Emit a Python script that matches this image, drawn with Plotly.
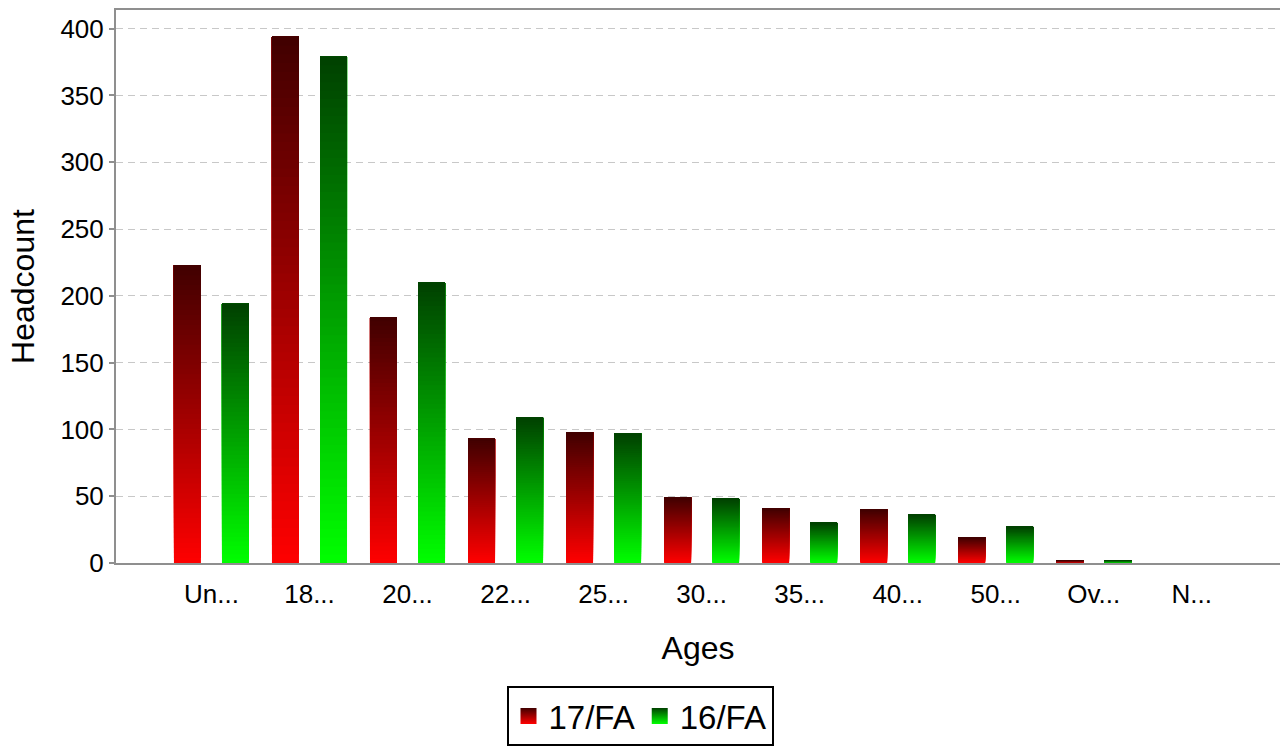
import plotly.graph_objects as go

categories = ["Un...", "18...", "20...", "22...", "25...", "30...", "35...", "40...", "50...", "Ov...", "N..."]
fa17 = [223, 394, 184, 93, 98, 49, 41, 40, 19, 2, 0]
fa16 = [194, 379, 210, 109, 97, 48, 30, 36, 27, 2, 0]
series_names = ["17/FA", "16/FA"]
y_ticks = [0, 50, 100, 150, 200, 250, 300, 350, 400]

FONT = "Liberation Sans, Arial, sans-serif"
N_SEG = 60

def lerp(c1, c2, t):
    return "rgb(%d,%d,%d)" % tuple(round(a + (b - a) * t) for a, b in zip(c1, c2))

styles = [
    dict(vals=fa17, dark=(64, 0, 0), bright=(255, 0, 0), offset=-0.383),
    dict(vals=fa16, dark=(0, 64, 0), bright=(0, 255, 0), offset=0.107),
]
BAR_W = 0.2755

fig = go.Figure()
for name, st in zip(series_names, styles):
    vals = st["vals"]
    for k in range(N_SEG):
        # overlapping layers: layer k spans from k/N of the value up to the full value
        t = 1 - (k + 0.5) / N_SEG  # 1 = bottom bright, 0 = top dark
        col = lerp(st["dark"], st["bright"], t)
        fig.add_trace(go.Bar(
            x=categories,
            y=[v * (N_SEG - k) / N_SEG for v in vals],
            base=[v * k / N_SEG for v in vals],
            offset=st["offset"], width=BAR_W,
            marker=dict(color=col, line=dict(width=0)),
            showlegend=False, hoverinfo="skip",
        ))
    # legend entry
    fig.add_trace(go.Scatter(
        x=[None], y=[None], mode="markers", name=name,
        marker=dict(symbol="square", size=22,
                    color="rgb(%d,%d,%d)" % st["dark"],
                    gradient=dict(type="vertical", color="rgb(%d,%d,%d)" % st["bright"])),
    ))

fig.update_layout(
    width=1280, height=746,
    barmode="overlay",
    paper_bgcolor="white", plot_bgcolor="white",
    margin=dict(l=116, r=0, t=10, b=183),
    font=dict(family=FONT, size=26, color="black"),
    showlegend=True,
    legend=dict(
        orientation="h", xref="container", yref="container",
        x=0.5, xanchor="center", y=1 - 686 / 746, yanchor="top",
        bordercolor="black", borderwidth=2, bgcolor="white",
        font=dict(family=FONT, size=33, color="black"),
        itemsizing="trace",
    ),
    xaxis=dict(
        type="category", range=[-0.974, 10.90],
        showline=True, linecolor="#8f8f8f", linewidth=2, mirror=True,
        showgrid=False, ticks="", zeroline=False,
        tickfont=dict(size=26), ticklabelstandoff=7,
        title=dict(text="Ages", font=dict(size=32), standoff=28),
    ),
    yaxis=dict(
        range=[0, 414], tickvals=y_ticks,
        showline=True, linecolor="#8f8f8f", linewidth=2,
        showgrid=True, gridcolor="#c8c8c8", gridwidth=1, griddash="7px,5px",
        ticks="outside", ticklen=5, tickcolor="#8f8f8f", tickwidth=2,
        zeroline=False, tickfont=dict(size=26),
        title=dict(text="Headcount", font=dict(size=32), standoff=16),
    ),
)

fig.write_html("out.html", config={"displayModeBar": False},
               post_script="document.body.style.margin='0';document.body.style.overflow='hidden';")
